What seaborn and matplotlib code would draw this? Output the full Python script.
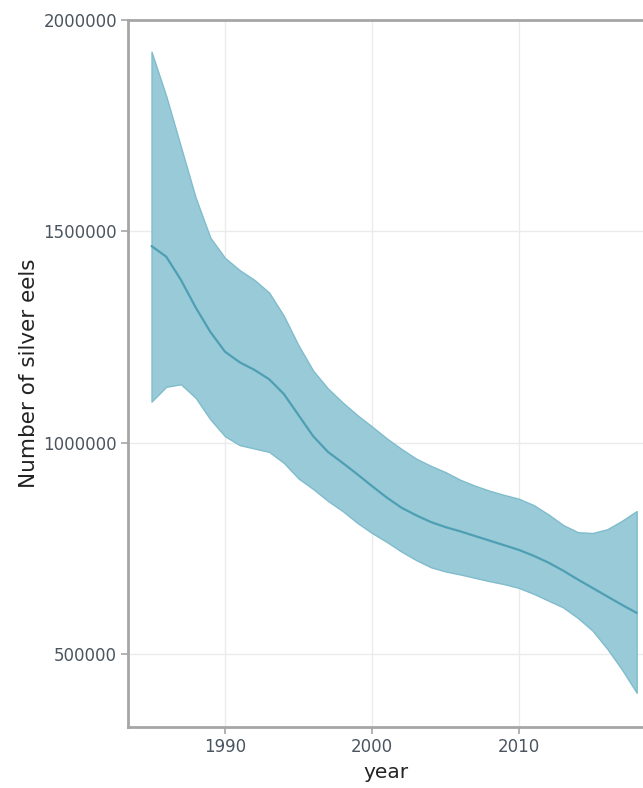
import pandas as pd
import matplotlib
matplotlib.use("Agg")
import matplotlib.pyplot as plt
import seaborn as sns

years = list(range(1985, 2019))
median = [1465000, 1440000, 1385000, 1320000, 1262000, 1215000, 1190000, 1172000,
          1150000, 1115000, 1065000, 1015000, 978000, 952000, 925000, 897000,
          870000, 846000, 828000, 812000, 800000, 790000, 779000, 768000,
          757000, 746000, 732000, 716000, 697000, 676000, 656000, 636000,
          616000, 597000]
upper = [1925000, 1820000, 1700000, 1580000, 1485000, 1437000, 1408000, 1385000,
         1355000, 1300000, 1230000, 1170000, 1128000, 1095000, 1065000, 1038000,
         1010000, 985000, 962000, 945000, 930000, 912000, 898000, 886000,
         876000, 867000, 852000, 830000, 805000, 788000, 786000, 795000,
         815000, 838000]
lower = [1097000, 1132000, 1138000, 1106000, 1055000, 1015000, 994000, 986000,
         978000, 952000, 915000, 890000, 862000, 838000, 810000, 786000,
         765000, 742000, 722000, 705000, 695000, 688000, 680000, 672000,
         665000, 656000, 642000, 626000, 610000, 585000, 555000, 512000,
         463000, 408000]

x_ticks = [1990, 2000, 2010]
y_ticks = [500000, 1000000, 1500000, 2000000]

df = pd.DataFrame({"year": years, "median": median, "upper": upper, "lower": lower})

sns.set_theme(style="white")
plt.rcParams['font.family'] = ['DejaVu Sans']

fig = plt.figure(figsize=(6.43, 7.88), dpi=100)
ax = fig.add_axes([128 / 643, 61 / 788, 1 - 128 / 643, 707 / 788])

# uncertainty band, then the central estimate on top
ax.fill_between(df["year"], df["lower"], df["upper"], color="#98cad8", alpha=1.0,
                linewidth=1, edgecolor="#80bccc", zorder=2)
sns.lineplot(data=df, x="year", y="median", ax=ax, color="#4f9fb4", linewidth=1.6, zorder=3)

ax.set_xlim(1983.4, 2018.43)
ax.set_ylim(327000, 2000000)
ax.set_xticks(x_ticks)
ax.set_yticks(y_ticks)
ax.set_xticklabels([str(t) for t in x_ticks])
ax.set_yticklabels([str(t) for t in y_ticks])

ax.grid(True, color="#ebebeb", linewidth=1)
ax.set_axisbelow(True)

for side in ["left", "bottom", "top"]:
    ax.spines[side].set_color("#a6a6a6")
    ax.spines[side].set_linewidth(2)
ax.spines["right"].set_visible(False)

ax.tick_params(axis="both", which="major", length=5, width=1.2, color="#a6a6a6",
               labelsize=12, labelcolor="#4a5560", direction="out",
               bottom=True, left=True, pad=3)

ax.set_xlabel("year", fontsize=14.5, color="#222222", labelpad=5)
ax.set_ylabel("Number of silver eels", fontsize=15.5, color="#222222", labelpad=3)

fig.savefig("out.png", dpi=100)
